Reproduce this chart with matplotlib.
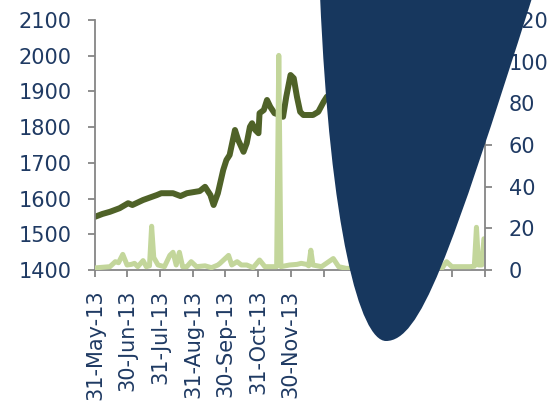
import matplotlib
matplotlib.use("Agg")
import matplotlib.pyplot as plt
import matplotlib.dates as mdates
from matplotlib.path import Path
import matplotlib.patches as mpatches
import pandas as pd

# price (left axis)
price_dates = ["2013-05-31", "2013-06-07", "2013-06-14", "2013-06-23", "2013-07-01", "2013-07-05",
               "2013-07-15", "2013-07-28", "2013-08-01", "2013-08-12", "2013-08-19", "2013-08-25",
               "2013-09-06", "2013-09-11", "2013-09-16", "2013-09-19", "2013-09-23", "2013-09-28",
               "2013-10-01", "2013-10-04", "2013-10-07", "2013-10-09", "2013-10-12", "2013-10-17",
               "2013-10-20", "2013-10-23", "2013-10-25", "2013-10-28", "2013-10-31", "2013-11-01",
               "2013-11-05", "2013-11-08", "2013-11-11", "2013-11-15", "2013-11-20", "2013-11-23",
               "2013-11-26", "2013-11-30", "2013-12-03", "2013-12-06", "2013-12-09", "2013-12-12",
               "2013-12-21", "2013-12-26", "2013-12-31", "2014-01-03", "2014-01-11"]
price = [1549, 1557, 1563, 1573, 1587, 1582,
         1596, 1610, 1615, 1615, 1607, 1615,
         1621, 1633, 1610, 1582, 1615, 1680,
         1708, 1722, 1764, 1792, 1764, 1731,
         1755, 1801, 1811, 1792, 1783, 1839,
         1848, 1876, 1857, 1839, 1834, 1829,
         1885, 1946, 1937, 1885, 1843, 1834,
         1834, 1843, 1871, 1885, 1895]

# volume (right axis)
vol_dates = ["2013-05-31", "2013-06-14", "2013-06-19", "2013-06-22", "2013-06-26", "2013-06-30",
             "2013-07-04", "2013-07-07", "2013-07-10", "2013-07-15", "2013-07-18", "2013-07-21",
             "2013-07-23", "2013-07-25", "2013-07-29", "2013-08-04", "2013-08-09", "2013-08-12",
             "2013-08-15", "2013-08-18", "2013-08-21", "2013-08-25", "2013-08-29", "2013-09-03",
             "2013-09-11", "2013-09-17", "2013-09-23", "2013-09-25", "2013-10-03", "2013-10-06",
             "2013-10-11", "2013-10-15", "2013-10-20", "2013-10-26", "2013-11-01", "2013-11-06",
             "2013-11-12", "2013-11-17", "2013-11-19", "2013-11-21", "2013-11-29", "2013-12-06",
             "2013-12-10", "2013-12-15", "2013-12-17", "2013-12-19", "2013-12-21", "2013-12-29",
             "2014-01-09", "2014-01-14", "2014-01-21", "2014-03-12", "2014-04-21", "2014-04-25",
             "2014-04-30", "2014-05-17", "2014-05-21", "2014-05-23", "2014-05-25", "2014-05-28",
             "2014-05-30", "2014-05-31"]
volume = [1.0, 1.6, 4.0, 3.5, 7.5, 2.4,
          2.7, 3.2, 1.6, 4.5, 1.6, 2.0,
          21.0, 6.0, 2.4, 1.6, 7.0, 8.5,
          2.4, 8.5, 1.6, 1.6, 4.0, 1.6,
          2.0, 1.1, 2.4, 3.2, 7.0, 2.4,
          4.0, 2.4, 2.4, 1.1, 4.8, 1.6,
          1.6, 1.6, 103.0, 1.6, 2.4, 2.7,
          3.2, 2.7, 2.0, 9.5, 2.4, 1.6,
          5.5, 1.6, 0.8, 1.0, 1.0, 4.0,
          1.6, 1.6, 1.8, 20.5, 2.4, 2.4,
          15.0, 14.0]

tick_dates = pd.date_range("2013-05-31", "2014-05-31", freq="ME")
n_labels = 7

navy = "#17375E"
txt = "#1F3A63"
grey = "#868686"

plt.rcParams["font.family"] = ["DejaVu Sans"]

fig = plt.figure(figsize=(5.6, 4.03), dpi=100)
ax1 = fig.add_axes([95 / 560, 133 / 403, 390 / 560, 250 / 403])
ax2 = ax1.twinx()

ax1.plot(pd.to_datetime(price_dates), price, color="#4F6228", linewidth=4.3,
         solid_capstyle="round", solid_joinstyle="round")
ax2.plot(pd.to_datetime(vol_dates), volume, color="#C3D69B", linewidth=3.6,
         solid_capstyle="round", solid_joinstyle="round")

ax1.set_ylim(1400, 2100)
ax1.set_yticks(range(1400, 2101, 100))
ax2.set_ylim(0, 120)
ax2.set_yticks(range(0, 121, 20))
ax1.set_xlim(pd.Timestamp("2013-05-31"), pd.Timestamp("2014-05-31"))

ax1.set_xticks(tick_dates)
labels = [d.strftime("%d-%b-%y") if i < n_labels else "" for i, d in enumerate(tick_dates)]
ax1.set_xticklabels(labels, rotation=90, ha="center", va="top")

for ax in (ax1, ax2):
    ax.spines["top"].set_visible(False)
    for s in ("left", "right", "bottom"):
        ax.spines[s].set_color(grey)
        ax.spines[s].set_linewidth(1.3)
    ax.tick_params(colors=grey, labelcolor=txt, labelsize=15, length=5, width=1.3)
ax1.spines["right"].set_visible(False)
ax2.spines["left"].set_visible(False)
ax2.spines["bottom"].set_visible(False)
ax1.tick_params(axis="y", pad=12)
ax1.tick_params(axis="x", pad=9)
ax2.tick_params(axis="y", pad=12)

# dark blob covering the right part of the chart
def fp(x, y):
    return (x / 560, 1 - y / 403)

verts = [fp(533, -5), fp(449, 260), fp(420, 341), fp(386, 341),
         fp(360, 341), fp(330, 230), fp(320, -5), fp(533, -5)]
codes = [Path.MOVETO, Path.CURVE4, Path.CURVE4, Path.CURVE4,
         Path.CURVE4, Path.CURVE4, Path.CURVE4, Path.CLOSEPOLY]
blob = mpatches.PathPatch(Path(verts, codes), facecolor=navy, edgecolor="none",
                          transform=fig.transFigure, zorder=10)
fig.patches.append(blob)

fig.savefig("out.png", dpi=100)
